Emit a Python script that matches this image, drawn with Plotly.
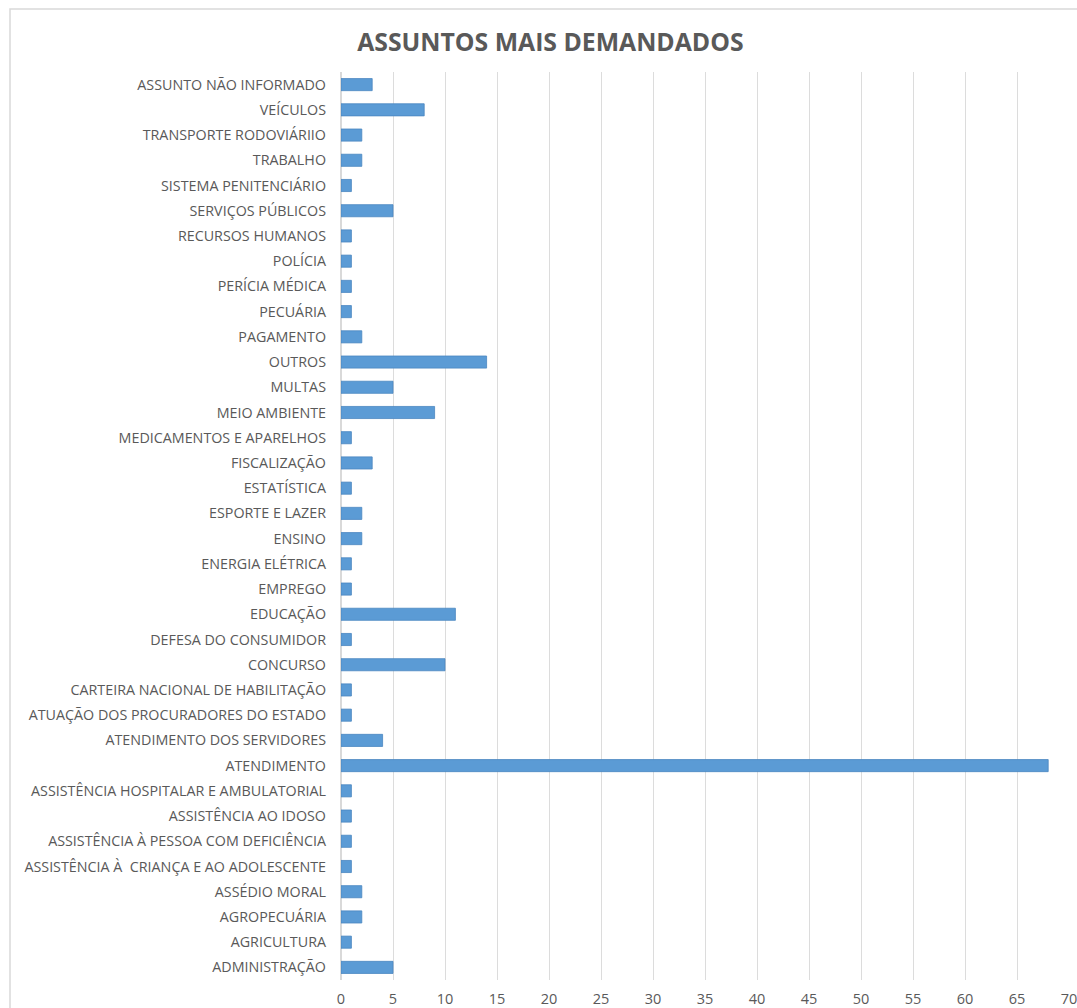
import plotly.graph_objects as go

categories = [
    "ADMINISTRAÇÃO", "AGRICULTURA", "AGROPECUÁRIA", "ASSÉDIO MORAL",
    "ASSISTÊNCIA À  CRIANÇA E AO ADOLESCENTE", "ASSISTÊNCIA À PESSOA COM DEFICIÊNCIA",
    "ASSISTÊNCIA AO IDOSO", "ASSISTÊNCIA HOSPITALAR E AMBULATORIAL", "ATENDIMENTO",
    "ATENDIMENTO DOS SERVIDORES", "ATUAÇÃO DOS PROCURADORES DO ESTADO",
    "CARTEIRA NACIONAL DE HABILITAÇÃO", "CONCURSO", "DEFESA DO CONSUMIDOR", "EDUCAÇÃO",
    "EMPREGO", "ENERGIA ELÉTRICA", "ENSINO", "ESPORTE E LAZER", "ESTATÍSTICA",
    "FISCALIZAÇÃO", "MEDICAMENTOS E APARELHOS", "MEIO AMBIENTE", "MULTAS", "OUTROS",
    "PAGAMENTO", "PECUÁRIA", "PERÍCIA MÉDICA", "POLÍCIA", "RECURSOS HUMANOS",
    "SERVIÇOS PÚBLICOS", "SISTEMA PENITENCIÁRIO", "TRABALHO", "TRANSPORTE RODOVIÁRIIO",
    "VEÍCULOS", "ASSUNTO NÃO INFORMADO",
]
values = [
    5, 1, 2, 2,
    1, 1,
    1, 1, 68,
    4, 1,
    1, 10, 1, 11,
    1, 1, 2, 2, 1,
    3, 1, 9, 5, 14,
    2, 1, 1, 1, 1,
    5, 1, 2, 2,
    8, 3,
]
x_ticks = list(range(0, 75, 5))

fig = go.Figure(go.Bar(
    x=values, y=categories, orientation="h",
    marker=dict(color="#5B9BD5", line=dict(color="#4A86C0", width=0.8)),
    width=0.48,
))

fig.update_layout(
    width=1077, height=1008,
    margin=dict(l=341, r=8, t=72, b=28),
    paper_bgcolor="white", plot_bgcolor="white",
    font=dict(family="Open Sans", color="#595959", size=14),
    title=dict(text="<b>ASSUNTOS MAIS DEMANDADOS</b>", x=0.511, xanchor="center",
               y=0.958, yanchor="middle",
               font=dict(family="Open Sans", size=24.8, color="#595959")),
    showlegend=False,
    shapes=[dict(type="rect", xref="paper", yref="paper",
                 x0=(10 - 341) / 728, x1=1.05, y0=-0.1, y1=1 + (72 - 9) / 908,
                 line=dict(color="#D9D9D9", width=1.5), fillcolor="rgba(0,0,0,0)", layer="below")],
)
fig.update_xaxes(range=[0, 70], tickvals=x_ticks, showgrid=True, gridcolor="#DCDCDC",
                 gridwidth=1.3, zeroline=True, zerolinecolor="#D9D9D9", zerolinewidth=1.5,
                 tickfont=dict(size=14.5, color="#595959"), ticks="", showline=False,
                 ticklabelstandoff=8, automargin=False, ticklabeloverflow="allow")
fig.update_yaxes(categoryorder="array", categoryarray=categories, range=[-0.5, 35.5],
                 tickfont=dict(size=14.3, color="#595959"), ticks="",
                 ticklabelstandoff=14, automargin=False,
                 showgrid=False, showline=False)

fig.write_html("out.html", config={"displayModeBar": False},
               post_script="document.body.style.margin='0';document.body.style.overflow='hidden';")
